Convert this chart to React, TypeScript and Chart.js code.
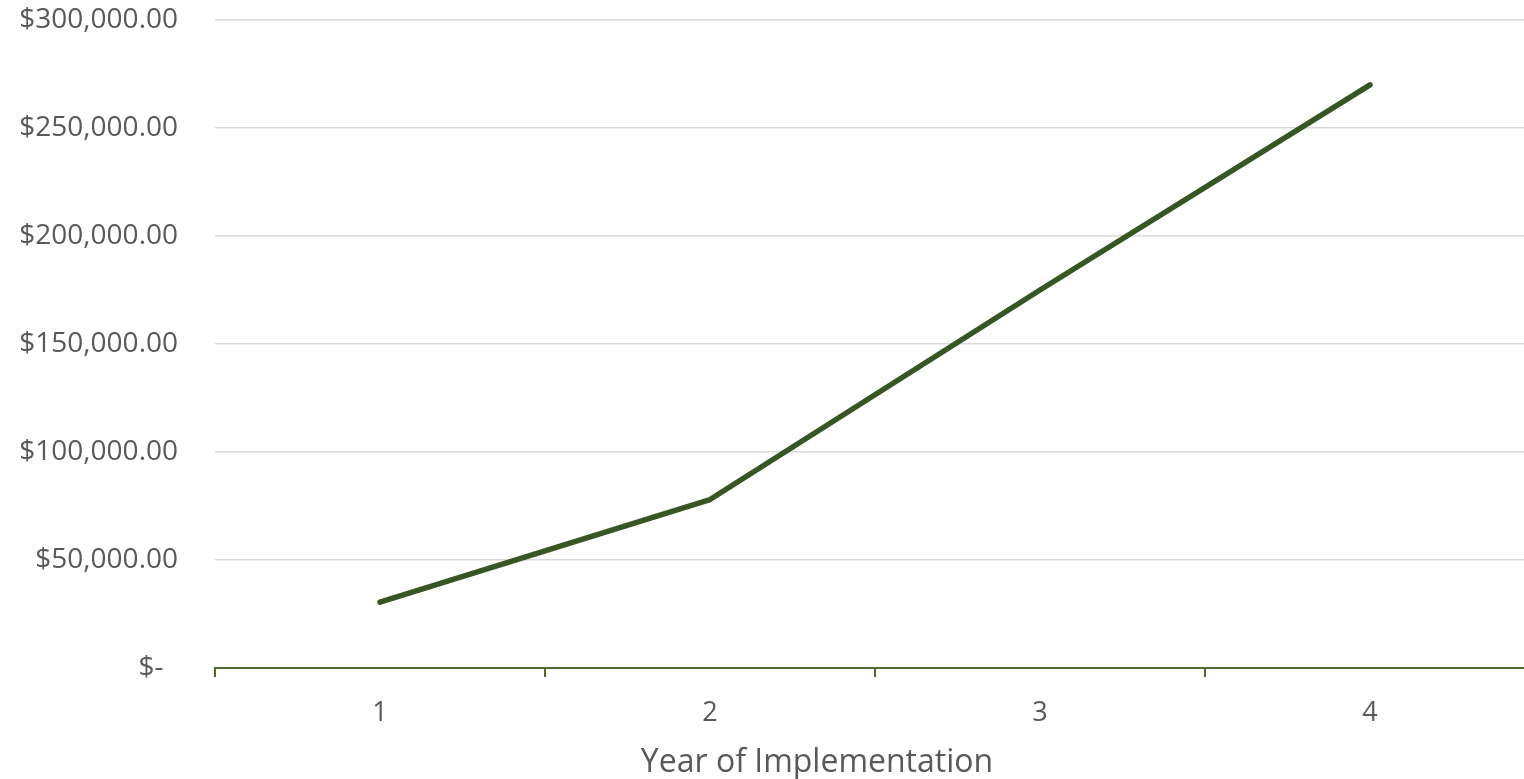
import React, { useEffect, useRef } from "react";
import { Chart, registerables } from "chart.js";

Chart.register(...registerables);

const categories: string[] = ["1", "2", "3", "4"];
const costValues: number[] = [30500, 78000, 175000, 270000];
const yMin = 0;
const yMax = 300000;
const yStep = 50000;
const xTitle = "Year of Implementation";

function formatCurrency(v: number): string {
  if (v === 0) return "$-  ";
  return (
    "$" +
    v.toLocaleString("en-US", { minimumFractionDigits: 2, maximumFractionDigits: 2 })
  );
}

const textGray = "#595959";
const fontFamily = "'Open Sans', sans-serif";

const axisTitlePlugin = {
  id: "axisTitlePlugin",
  afterDraw(chart: any) {
    const ctx = chart.ctx;
    const area = chart.chartArea;
    ctx.save();
    ctx.fillStyle = textGray;
    ctx.font = `32px ${fontFamily}`;
    ctx.textAlign = "center";
    ctx.textBaseline = "alphabetic";
    ctx.fillText(xTitle, area.left + 602, area.bottom + 104);
    ctx.restore();
  },
};

export default function App() {
  const canvasRef = useRef<HTMLCanvasElement | null>(null);

  useEffect(() => {
    if (!canvasRef.current) return;
    const axisGreen = "#4f6b2f";
    const chart = new Chart(canvasRef.current, {
      type: "line",
      data: {
        labels: categories,
        datasets: [
          {
            label: "Cost",
            data: costValues,
            borderColor: "#375623",
            backgroundColor: "#375623",
            borderWidth: 5.5,
            borderCapStyle: "round",
            borderJoinStyle: "round",
            pointRadius: 0,
            tension: 0,
            fill: false,
          },
        ],
      },
      plugins: [axisTitlePlugin],
      options: {
        animation: false,
        responsive: true,
        maintainAspectRatio: false,
        layout: { padding: { top: 20, left: 0, right: 5, bottom: 0 } },
        plugins: {
          legend: { display: false },
          tooltip: { enabled: false },
        },
        scales: {
          x: {
            offset: true,
            afterFit: (scale: any) => {
              scale.height = 111;
            },
            grid: {
              display: true,
              offset: true,
              drawOnChartArea: false,
              drawTicks: true,
              tickLength: 9,
              color: axisGreen,
              lineWidth: 2,
            },
            border: { display: true, color: axisGreen, width: 2 },
            ticks: {
              padding: 20,
              color: textGray,
              font: { family: fontFamily, size: 27 },
              maxRotation: 0,
            },
            title: { display: false },
          },
          y: {
            min: yMin,
            max: yMax,
            afterFit: (scale: any) => {
              scale.width = 215;
              scale.paddingTop = 0;
            },
            grid: {
              color: "#d9d9d9",
              lineWidth: 1.5,
              drawTicks: false,
            },
            border: { display: false },
            ticks: {
              stepSize: yStep,
              padding: 37,
              color: textGray,
              font: { family: fontFamily, size: 28 },
              callback: (v: any) => formatCurrency(Number(v)),
            },
          },
        },
      },
    });
    return () => chart.destroy();
  }, []);

  return (
    <div
      style={{
        position: "fixed",
        left: 0,
        top: 0,
        width: 1524,
        height: 779,
        overflow: "hidden",
        background: "#ffffff",
      }}
    >
      <div style={{ position: "absolute", left: 0, top: 0, width: 1540, height: 779 }}>
        <canvas ref={canvasRef} />
      </div>
    </div>
  );
}
